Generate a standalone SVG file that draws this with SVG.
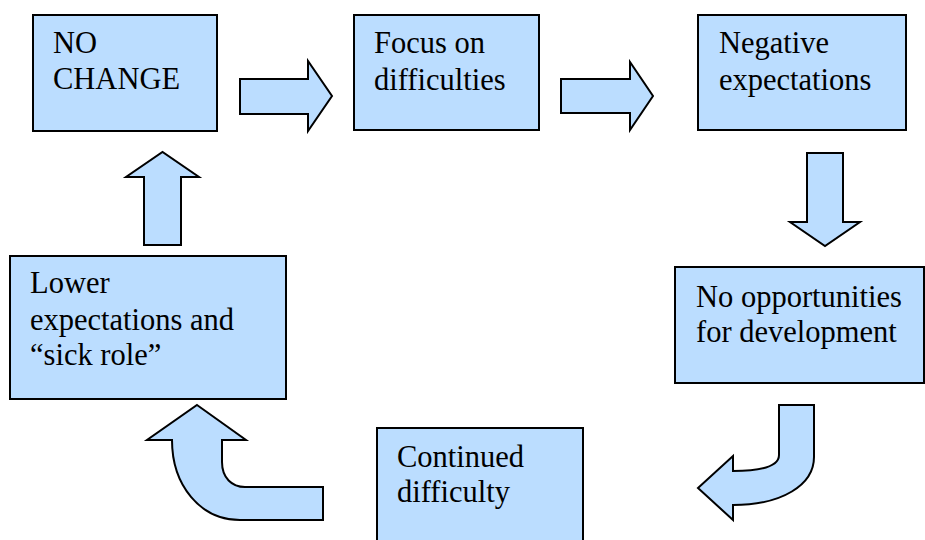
<svg xmlns="http://www.w3.org/2000/svg" width="925" height="540" viewBox="0 0 925 540">
<style>
.box{fill:#BBDDFF;stroke:#000;stroke-width:2}
.arr{fill:#BBDDFF;stroke:#000;stroke-width:2;stroke-linejoin:miter}
text{font-family:'Liberation Serif','Times New Roman',serif;font-size:30.5px;fill:#000}
</style>
<rect width="925" height="540" fill="#fff"/>
<g id="node-no-change">
<rect class="box" x="33" y="15" width="184" height="116"/>
<text x="53" y="53">NO</text>
<text x="53" y="89">CHANGE</text>
</g>
<g id="node-focus">
<rect class="box" x="354" y="15" width="185" height="115"/>
<text x="374" y="53">Focus on</text>
<text x="374" y="90">difficulties</text>
</g>
<g id="node-negative">
<rect class="box" x="698" y="15" width="208" height="115"/>
<text x="719" y="53">Negative</text>
<text x="719" y="90">expectations</text>
</g>
<g id="node-opportunities">
<rect class="box" x="675" y="267" width="249" height="116"/>
<text x="696" y="307">No opportunities</text>
<text x="696" y="342">for development</text>
</g>
<g id="node-continued">
<rect class="box" x="377" y="428" width="206" height="120"/>
<text x="397" y="467">Continued</text>
<text x="397" y="502">difficulty</text>
</g>
<g id="node-lower">
<rect class="box" x="10" y="256" width="276" height="143"/>
<text x="30" y="293">Lower</text>
<text x="30" y="330">expectations and</text>
<text x="30" y="365">“sick role”</text>
</g>
<g id="connectors">
<path class="arr" d="M240,79 L308,79 L308,61 L332,96 L308,131 L308,114 L240,114 Z"/>
<path class="arr" d="M561,79 L630,79 L630,62 L653,96 L630,130 L630,113 L561,113 Z"/>
<path class="arr" d="M807,153 L843,153 L843,222 L860,222 L825,246 L790,222 L807,222 Z"/>
<path class="arr" d="M779,405 L814,405 L814,457 C814,485 782,505 733,505 L733,520 L698,488 L733,456 L733,471 C762,471 779,466 779,455 Z"/>
<path class="arr" d="M197,405 L246,440 L222,440 L222,462 C222,478 232,487 245,487 L323,487 L323,520 L240,520 C200,520 172,485 172,440 L147,440 Z"/>
<path class="arr" d="M144,245 L181,245 L181,177 L199,177 L162.5,152 L126,177 L144,177 Z"/>
</g>
</svg>
